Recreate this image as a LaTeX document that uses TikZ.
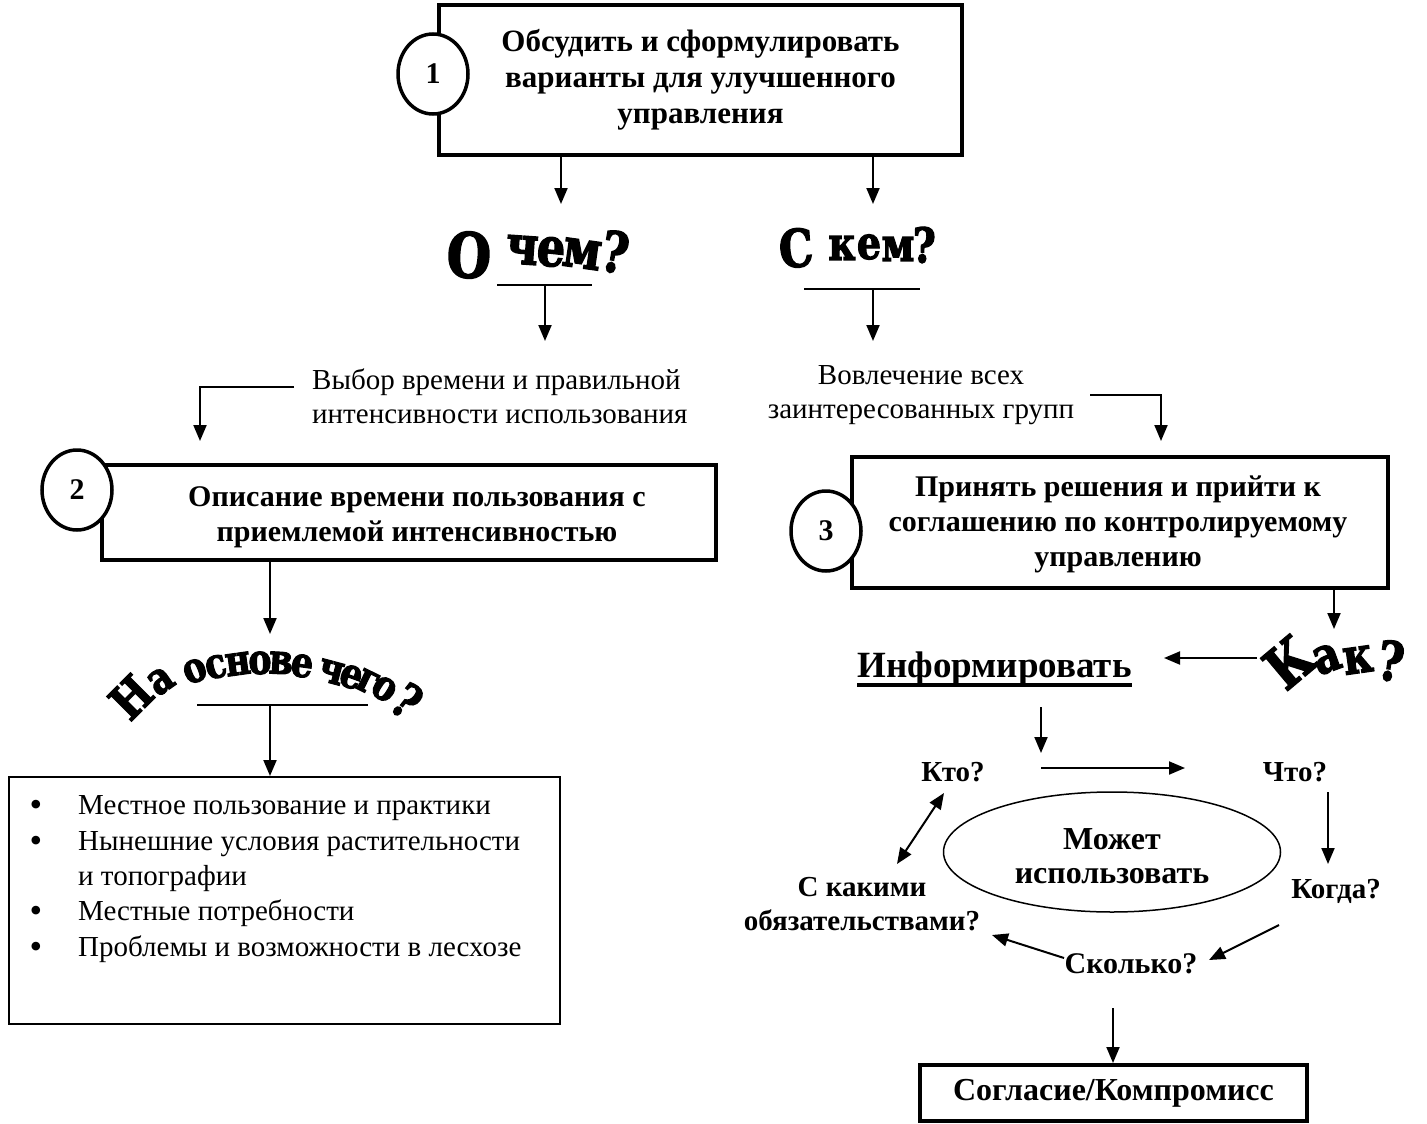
\documentclass[tikz,border=0pt]{standalone}
\usepackage{fontspec}
\setmainfont{Liberation Serif}
\newfontfamily\wafont{DejaVu Serif}[FakeStretch=0.82,BoldFeatures={FakeBold=2.5}]
\usetikzlibrary{arrows.meta,shapes.geometric}
\tikzset{
  arr/.style={line width=2pt,-{Triangle[length=16pt,width=13pt]}},
  dblarr/.style={line width=2pt,{Triangle[length=16pt,width=13pt]}-{Triangle[length=16pt,width=13pt]}},
  plainline/.style={line width=2pt},
  boxthick/.style={draw,line width=4pt,inner sep=0pt},
  boxthin/.style={draw,line width=2pt,inner sep=0pt},
  numc/.style={draw,line width=3.5pt,fill=white,ellipse,minimum width=70pt,minimum height=80pt,inner sep=0pt,font={\fontsize{30}{30}\selectfont\bfseries}},
  btext/.style={font={\fontsize{30}{35}\selectfont\bfseries},align=center,inner sep=0pt},
  rtext/.style={font={\fontsize{29}{34}\selectfont},inner sep=0pt},
  qtext/.style={font={\fontsize{29}{34}\selectfont\bfseries},align=center,inner sep=0pt},
  wa/.style={font={\wafont\bfseries\fontsize{#1}{#1}\selectfont},inner sep=0pt},
}
\begin{document}
\begin{tikzpicture}[x=1pt,y=-1pt]
\useasboundingbox (0,0) rectangle (1427,1124);

% ---------- box 1
\node[boxthick,btext,font={\fontsize{31}{36}\selectfont\bfseries},minimum width=523pt,minimum height=150pt] (box1) at (700.5,80)
  {Обсудить и сформулировать\\варианты для улучшенного\\управления};
\node[numc] (n1) at (433,74) {1};
\coordinate (t1) at (561,204);
\coordinate (t2) at (873,204);
\draw[arr] (box1.south -| t1) -- (t1);
\draw[arr] (box1.south -| t2) -- (t2);

% ---------- О чем?
\foreach \c/\x/\y/\r/\s [count=\i] in {О/469/255/-3/62,ч/522/250/-4/54,е/551/252/-6/54,м/582/254/-8/54,?/615/252/-10/56}
  \node[wa=\s,rotate=\r] (oc\i) at (\x,\y) {\c};
\coordinate (u1a) at (497,285);
\coordinate (u1b) at (592,285);
\draw[plainline] (u1a) -- (u1b);
\coordinate (u1m) at (545,285);
\coordinate (t3) at (545,341);
\draw[arr] (u1m) -- (t3);

% ---------- С кем?
\foreach \c/\x/\y/\r/\s [count=\i] in {С/796/248/4/52,к/842/248/0/46,е/869/247/0/46,м/898/249/0/46,?/924/245/-2/48}
  \node[wa=\s,rotate=\r] (sk\i) at (\x,\y) {\c};
\coordinate (u2a) at (804,289);
\coordinate (u2b) at (920,289);
\draw[plainline] (u2a) -- (u2b);
\coordinate (u2m) at (873,289);
\coordinate (t6) at (873,341);
\draw[arr] (u2m) -- (t6);

% ---------- side texts
\node[rtext,anchor=west,align=left] (txtA) at (312,396)
  {Выбор времени и правильной\\интенсивности использования};
\coordinate (bA0) at (294,387);
\coordinate (bA1) at (200,387);
\coordinate (bA2) at (200,441);
\draw[arr] (bA0) -- (bA1) -- (bA2);

\node[rtext,align=center] (txtB) at (921,395)
  {Вовлечение всех\\заинтересованных групп};
\coordinate (bB0) at (1090,395);
\coordinate (bB1) at (1161,395);
\coordinate (bB2) at (1161,441);
\draw[arr] (bB0) -- (bB1) -- (bB2);

% ---------- box 2
\node[boxthick,minimum width=614pt,minimum height=95pt] (box2) at (409,512.5) {};
\node[btext] (box2t) at (417,517) {Описание времени пользования с\\приемлемой интенсивностью};
\node[numc] (n2) at (77,490) {2};
\coordinate (t4) at (270,634);
\draw[arr] (box2.south -| t4) -- (t4);

% ---------- На основе чего?
\foreach \c/\x/\y/\r/\s [count=\i] in {Н/131/697/45/48,а/161/681/35/44,о/195/671/22/42,с/216/667/15/42,н/238/664/8/42,о/260/663/2/42,в/281/663/-3/42,е/302/666/-8/42,ч/331/672/-15/42,е/351/677/-20/42,г/368/682/-26/42,о/384/689/-32/42,?/407/701/-38/48}
  \node[wa=\s,rotate=\r] (no\i) at (\x,\y) {\c};
\coordinate (u3a) at (197,705);
\coordinate (u3b) at (368,705);
\draw[plainline] (u3a) -- (u3b);
\coordinate (u3m) at (270,705);
\coordinate (t7) at (270,776);
\draw[arr] (u3m) -- (t7);

% ---------- bullet box
\node[boxthin,minimum width=551pt,minimum height=247pt] (box4) at (284.5,900.5) {};
\foreach \t/\yy [count=\i] in {Местное пользование и практики/814,Нынешние условия растительности/850,и топографии/885,Местные потребности/920,Проблемы и возможности в лесхозе/956}
  \node[rtext,anchor=base west] (li\i) at (78,\yy) {\t};
\foreach \yy [count=\i] in {814,850,920,956}
  \node[font={\fontsize{36}{36}\selectfont},inner sep=0pt,anchor=base] (bu\i) at (36,\yy+2) {•};

% ---------- box 3
\node[boxthick,minimum width=536pt,minimum height=131pt] (box3) at (1120,522.5) {};
\node[btext] (box3t) at (1118,524) {Принять решения и прийти к\\соглашению по контролируемому\\управлению};
\node[numc] (n3) at (826,531) {3};
\coordinate (t5) at (1334,629);
\draw[arr] (box3.south -| t5) -- (t5);

% ---------- Как?
\foreach \c/\x/\y/\r/\s [count=\i] in {К/1289/662/40/58,а/1327/659/20/50,к/1358/660/8/50,?/1391/661/-8/54}
  \node[wa=\s,rotate=\r] (kak\i) at (\x,\y) {\c};
\coordinate (kakL) at (1257,658);
\coordinate (infR) at (1164,658);
\draw[arr] (kakL) -- (infR);

% ---------- Информировать
\node[font={\fontsize{37}{37}\selectfont\bfseries},inner sep=0pt,anchor=base] (inf) at (994.5,677) {Информировать};
\draw[line width=3.5pt] ([yshift=-8pt]inf.base west) -- ([yshift=-8pt]inf.base east);
\coordinate (i1) at (1041,707);
\coordinate (i2) at (1041,753);
\draw[arr] (i1) -- (i2);

% ---------- cycle
\node[qtext] (kto) at (953,772) {Кто?};
\node[qtext] (chto) at (1295,772) {Что?};
\node[qtext] (kogda) at (1336,891) {Когда?};
\node[qtext,font={\fontsize{30}{34}\selectfont\bfseries}] (skolko) at (1131,964) {Сколько?};
\node[qtext] (skakimi) at (862,904) {С какими\\обязательствами?};
\node[draw,ellipse,line width=1.5pt,minimum width=337pt,minimum height=120pt,inner sep=0pt] (mozhet) at (1112,852) {};
\node[font={\fontsize{32}{34}\selectfont\bfseries},align=center,inner sep=0pt] (mozhett) at (1112,856) {Может\\использовать};

\coordinate (k1) at (1041,768);
\coordinate (k2) at (1185,768);
\draw[arr] (k1) -- (k2);
\coordinate (c1) at (1328,792);
\coordinate (c2) at (1328,864);
\draw[arr] (c1) -- (c2);
\coordinate (d1) at (944,793);
\coordinate (d2) at (897,864);
\draw[dblarr] (d1) -- (d2);
\coordinate (g1) at (1279,925);
\coordinate (g2) at (1209,960);
\draw[arr] (g1) -- (g2);
\coordinate (s1) at (1064,958);
\coordinate (s2) at (992,935);
\draw[arr] (s1) -- (s2);
\coordinate (s3) at (1113,1008);
\coordinate (s4) at (1113,1063);
\draw[arr] (s3) -- (s4);

% ---------- agreement box
\node[boxthick,font={\fontsize{32}{32}\selectfont\bfseries},inner sep=0pt,minimum width=387pt,minimum height=56pt] (agree) at (1113.5,1093) {Согласие/Компромисс};
\end{tikzpicture}
\end{document}
